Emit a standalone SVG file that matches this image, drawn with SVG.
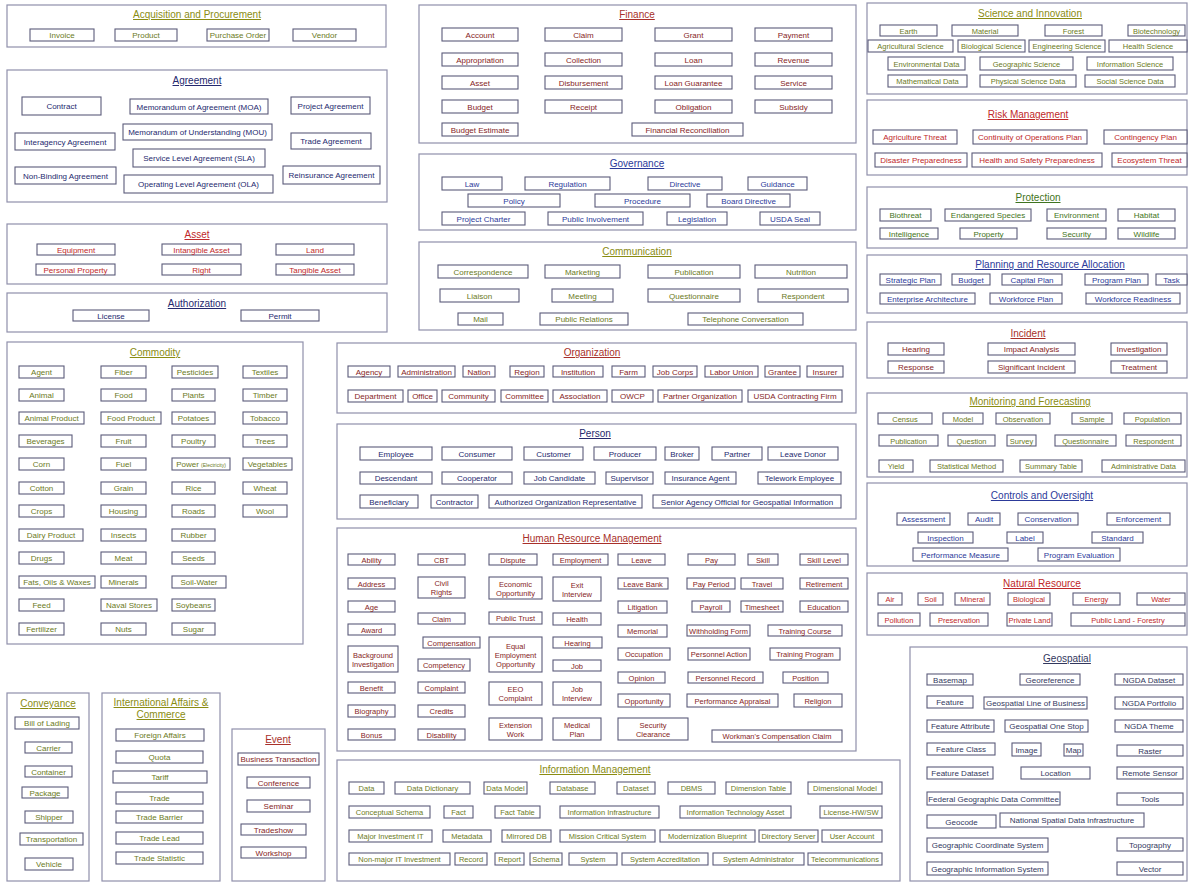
<svg xmlns="http://www.w3.org/2000/svg" width="1188" height="883" viewBox="0 0 1188 883">
<style>
  rect.panel{fill:#fff;stroke:#8f8fab;stroke-width:1.2}
  rect.box{fill:#fff;stroke:#5b5b7a;stroke-width:1.1}
  text{font-family:"Liberation Sans",Arial,Helvetica,sans-serif;font-size:8px;text-anchor:middle}
  .sm text{font-size:7.5px}
  text.title,.sm text.title{font-size:10px;text-decoration:underline}
  .olive text{fill:#6b7a1c}
  .olive text.title{fill:#8a8c12}
  .navy text{fill:#25296e}
  .red text{fill:#c0282a}
  .maroon text{fill:#861e1e}
  .maroon text.title{fill:#a8302a}
  .blue text{fill:#2c3a9a}
  .green text{fill:#3f7420}
  .slate text{fill:#33385e}
</style>
<rect width="1188" height="883" fill="#fff"/>

<!-- Acquisition and Procurement -->
<g id="acquisition-and-procurement" class="olive">
  <rect class="panel" x="7" y="5" width="379" height="42"/>
  <text class="title" x="197" y="18">Acquisition and Procurement</text>
  <g id="acq-invoice"><rect class="box" x="30" y="29" width="64" height="12"/><text x="62" y="38">Invoice</text></g>
  <g id="acq-product"><rect class="box" x="115" y="29" width="62" height="12"/><text x="146" y="38">Product</text></g>
  <g id="acq-purchase-order"><rect class="box" x="207" y="29" width="62" height="12"/><text x="238" y="38">Purchase Order</text></g>
  <g id="acq-vendor"><rect class="box" x="293" y="29" width="63" height="12"/><text x="324.5" y="38">Vendor</text></g>
</g>

<!-- Agreement -->
<g id="agreement" class="navy">
  <rect class="panel" x="7" y="70" width="380" height="132"/>
  <text class="title" x="197" y="84">Agreement</text>
  <g id="agr-contract"><rect class="box" x="22" y="97" width="79" height="18"/><text x="61.5" y="109">Contract</text></g>
  <g id="agr-moa"><rect class="box" x="130" y="99" width="138" height="15"/><text x="199" y="109.5">Memorandum of Agreement (MOA)</text></g>
  <g id="agr-project"><rect class="box" x="291" y="97" width="79" height="17"/><text x="330.5" y="108.5">Project Agreement</text></g>
  <g id="agr-mou"><rect class="box" x="123" y="124" width="149" height="16"/><text x="197.5" y="135">Memorandum of Understanding (MOU)</text></g>
  <g id="agr-interagency"><rect class="box" x="15" y="133" width="100" height="17"/><text x="65" y="144.5">Interagency Agreement</text></g>
  <g id="agr-trade"><rect class="box" x="291" y="133" width="80" height="16"/><text x="331" y="144">Trade Agreement</text></g>
  <g id="agr-sla"><rect class="box" x="133" y="149" width="132" height="18"/><text x="199" y="161">Service Level Agreement (SLA)</text></g>
  <g id="agr-non-binding"><rect class="box" x="15" y="167" width="101" height="17"/><text x="65.5" y="178.5">Non-Binding Agreement</text></g>
  <g id="agr-ola"><rect class="box" x="124" y="175" width="149" height="18"/><text x="198.5" y="187">Operating Level Agreement (OLA)</text></g>
  <g id="agr-reinsurance"><rect class="box" x="283" y="166" width="97" height="18"/><text x="331.5" y="178">Reinsurance Agreement</text></g>
</g>

<!-- Asset -->
<g id="asset" class="red">
  <rect class="panel" x="7" y="224" width="380" height="60"/>
  <text class="title" x="197" y="238">Asset</text>
  <g id="ast-equipment"><rect class="box" x="37" y="244" width="78" height="11"/><text x="76" y="252.5">Equipment</text></g>
  <g id="ast-intangible"><rect class="box" x="162" y="244" width="79" height="11"/><text x="201.5" y="252.5">Intangible Asset</text></g>
  <g id="ast-land"><rect class="box" x="276" y="244" width="78" height="11"/><text x="315" y="252.5">Land</text></g>
  <g id="ast-personal-property"><rect class="box" x="36" y="264" width="79" height="11"/><text x="75.5" y="272.5">Personal Property</text></g>
  <g id="ast-right"><rect class="box" x="162" y="264" width="79" height="11"/><text x="201.5" y="272.5">Right</text></g>
  <g id="ast-tangible"><rect class="box" x="276" y="264" width="78" height="11"/><text x="315" y="272.5">Tangible Asset</text></g>
</g>

<!-- Authorization -->
<g id="authorization" class="navy">
  <rect class="panel" x="7" y="293" width="380" height="39"/>
  <text class="title" x="197" y="307">Authorization</text>
  <g id="auth-license"><rect class="box" x="73" y="310" width="76" height="11"/><text x="111" y="318.5">License</text></g>
  <g id="auth-permit"><rect class="box" x="241" y="310" width="78" height="11"/><text x="280" y="318.5">Permit</text></g>
</g>

<!-- Commodity -->
<g id="commodity" class="olive">
  <rect class="panel" x="7" y="342" width="296" height="302"/>
  <text class="title" x="155" y="356">Commodity</text>
  <g id="cmd-agent"><rect class="box" x="19" y="366" width="45" height="12"/><text x="41.5" y="375">Agent</text></g>
  <g id="cmd-fiber"><rect class="box" x="101" y="366" width="45" height="12"/><text x="123.5" y="375">Fiber</text></g>
  <g id="cmd-pesticides"><rect class="box" x="172" y="366" width="46" height="12"/><text x="195" y="375">Pesticides</text></g>
  <g id="cmd-textiles"><rect class="box" x="243" y="366" width="44" height="12"/><text x="265" y="375">Textiles</text></g>
  <g id="cmd-animal"><rect class="box" x="19" y="389" width="45" height="12"/><text x="41.5" y="398">Animal</text></g>
  <g id="cmd-food"><rect class="box" x="101" y="389" width="45" height="12"/><text x="123.5" y="398">Food</text></g>
  <g id="cmd-plants"><rect class="box" x="172" y="389" width="43" height="12"/><text x="193.5" y="398">Plants</text></g>
  <g id="cmd-timber"><rect class="box" x="243" y="389" width="44" height="12"/><text x="265" y="398">Timber</text></g>
  <g id="cmd-animal-product"><rect class="box" x="19" y="412" width="65" height="12"/><text x="51.5" y="421">Animal Product</text></g>
  <g id="cmd-food-product"><rect class="box" x="101" y="412" width="60" height="12"/><text x="131" y="421">Food Product</text></g>
  <g id="cmd-potatoes"><rect class="box" x="172" y="412" width="43" height="12"/><text x="193.5" y="421">Potatoes</text></g>
  <g id="cmd-tobacco"><rect class="box" x="243" y="412" width="44" height="12"/><text x="265" y="421">Tobacco</text></g>
  <g id="cmd-beverages"><rect class="box" x="19" y="435" width="53" height="12"/><text x="45.5" y="444">Beverages</text></g>
  <g id="cmd-fruit"><rect class="box" x="101" y="435" width="45" height="12"/><text x="123.5" y="444">Fruit</text></g>
  <g id="cmd-poultry"><rect class="box" x="172" y="435" width="43" height="12"/><text x="193.5" y="444">Poultry</text></g>
  <g id="cmd-trees"><rect class="box" x="243" y="435" width="44" height="12"/><text x="265" y="444">Trees</text></g>
  <g id="cmd-corn"><rect class="box" x="19" y="458" width="45" height="12"/><text x="41.5" y="467">Corn</text></g>
  <g id="cmd-fuel"><rect class="box" x="101" y="458" width="45" height="12"/><text x="123.5" y="467">Fuel</text></g>
  <g id="cmd-power"><rect class="box" x="172" y="458" width="58" height="12"/><text x="201" y="467">Power <tspan font-size="5">(Electricity)</tspan></text></g>
  <g id="cmd-vegetables"><rect class="box" x="243" y="458" width="49" height="12"/><text x="267.5" y="467">Vegetables</text></g>
  <g id="cmd-cotton"><rect class="box" x="19" y="482" width="45" height="12"/><text x="41.5" y="491">Cotton</text></g>
  <g id="cmd-grain"><rect class="box" x="101" y="482" width="45" height="12"/><text x="123.5" y="491">Grain</text></g>
  <g id="cmd-rice"><rect class="box" x="172" y="482" width="43" height="12"/><text x="193.5" y="491">Rice</text></g>
  <g id="cmd-wheat"><rect class="box" x="243" y="482" width="44" height="12"/><text x="265" y="491">Wheat</text></g>
  <g id="cmd-crops"><rect class="box" x="19" y="505" width="45" height="12"/><text x="41.5" y="514">Crops</text></g>
  <g id="cmd-housing"><rect class="box" x="101" y="505" width="45" height="12"/><text x="123.5" y="514">Housing</text></g>
  <g id="cmd-roads"><rect class="box" x="172" y="505" width="43" height="12"/><text x="193.5" y="514">Roads</text></g>
  <g id="cmd-wool"><rect class="box" x="243" y="505" width="44" height="12"/><text x="265" y="514">Wool</text></g>
  <g id="cmd-dairy-product"><rect class="box" x="19" y="529" width="64" height="12"/><text x="51" y="538">Dairy Product</text></g>
  <g id="cmd-insects"><rect class="box" x="101" y="529" width="45" height="12"/><text x="123.5" y="538">Insects</text></g>
  <g id="cmd-rubber"><rect class="box" x="172" y="529" width="43" height="12"/><text x="193.5" y="538">Rubber</text></g>
  <g id="cmd-drugs"><rect class="box" x="19" y="552" width="45" height="12"/><text x="41.5" y="561">Drugs</text></g>
  <g id="cmd-meat"><rect class="box" x="101" y="552" width="45" height="12"/><text x="123.5" y="561">Meat</text></g>
  <g id="cmd-seeds"><rect class="box" x="172" y="552" width="43" height="12"/><text x="193.5" y="561">Seeds</text></g>
  <g id="cmd-fats-oils-waxes"><rect class="box" x="19" y="576" width="76" height="12"/><text x="57" y="585">Fats, Oils &amp; Waxes</text></g>
  <g id="cmd-minerals"><rect class="box" x="101" y="576" width="45" height="12"/><text x="123.5" y="585">Minerals</text></g>
  <g id="cmd-soil-water"><rect class="box" x="172" y="576" width="54" height="12"/><text x="199" y="585">Soil-Water</text></g>
  <g id="cmd-feed"><rect class="box" x="19" y="599" width="45" height="12"/><text x="41.5" y="608">Feed</text></g>
  <g id="cmd-naval-stores"><rect class="box" x="101" y="599" width="56" height="12"/><text x="129" y="608">Naval Stores</text></g>
  <g id="cmd-soybeans"><rect class="box" x="172" y="599" width="43" height="12"/><text x="193.5" y="608">Soybeans</text></g>
  <g id="cmd-fertilizer"><rect class="box" x="19" y="623" width="45" height="12"/><text x="41.5" y="632">Fertilizer</text></g>
  <g id="cmd-nuts"><rect class="box" x="101" y="623" width="45" height="12"/><text x="123.5" y="632">Nuts</text></g>
  <g id="cmd-sugar"><rect class="box" x="172" y="623" width="43" height="12"/><text x="193.5" y="632">Sugar</text></g>
</g>

<!-- Conveyance -->
<g id="conveyance" class="olive">
  <rect class="panel" x="7" y="693" width="82" height="188"/>
  <text class="title" x="48" y="707">Conveyance</text>
  <g id="cnv-bill-of-lading"><rect class="box" x="15" y="717" width="64" height="12"/><text x="47" y="726">Bill of Lading</text></g>
  <g id="cnv-carrier"><rect class="box" x="25" y="742" width="47" height="11"/><text x="48.5" y="750.5">Carrier</text></g>
  <g id="cnv-container"><rect class="box" x="25" y="766" width="47" height="11"/><text x="48.5" y="774.5">Container</text></g>
  <g id="cnv-package"><rect class="box" x="22" y="787" width="46" height="11"/><text x="45" y="795.5">Package</text></g>
  <g id="cnv-shipper"><rect class="box" x="25" y="811" width="48" height="12"/><text x="49" y="820">Shipper</text></g>
  <g id="cnv-transportation"><rect class="box" x="20" y="833" width="63" height="12"/><text x="51.5" y="842">Transportation</text></g>
  <g id="cnv-vehicle"><rect class="box" x="25" y="858" width="48" height="12"/><text x="49" y="867">Vehicle</text></g>
</g>

<!-- International Affairs & Commerce -->
<g id="international-affairs-and-commerce" class="olive">
  <rect class="panel" x="102" y="693" width="118" height="188"/>
  <text class="title" x="161" y="706">International Affairs &amp;</text>
  <text class="title" x="161" y="718">Commerce</text>
  <g id="int-foreign-affairs"><rect class="box" x="116" y="729" width="88" height="12"/><text x="160" y="738">Foreign Affairs</text></g>
  <g id="int-quota"><rect class="box" x="116" y="751" width="87" height="12"/><text x="159.5" y="760">Quota</text></g>
  <g id="int-tariff"><rect class="box" x="113" y="771" width="94" height="12"/><text x="160" y="780">Tariff</text></g>
  <g id="int-trade"><rect class="box" x="116" y="792" width="87" height="12"/><text x="159.5" y="801">Trade</text></g>
  <g id="int-trade-barrier"><rect class="box" x="116" y="811" width="87" height="12"/><text x="159.5" y="820">Trade Barrier</text></g>
  <g id="int-trade-lead"><rect class="box" x="116" y="832" width="87" height="12"/><text x="159.5" y="841">Trade Lead</text></g>
  <g id="int-trade-statistic"><rect class="box" x="116" y="852" width="87" height="12"/><text x="159.5" y="861">Trade Statistic</text></g>
</g>

<!-- Event -->
<g id="event" class="maroon">
  <rect class="panel" x="232" y="729" width="93" height="152"/>
  <text class="title" x="278" y="743">Event</text>
  <g id="evt-business-transaction"><rect class="box" x="238" y="753" width="81" height="12"/><text x="278.5" y="762" font-size="7">Business Transaction</text></g>
  <g id="evt-conference"><rect class="box" x="247" y="777" width="63" height="11"/><text x="278.5" y="785.5">Conference</text></g>
  <g id="evt-seminar"><rect class="box" x="247" y="800" width="63" height="12"/><text x="278.5" y="809">Seminar</text></g>
  <g id="evt-tradeshow"><rect class="box" x="241" y="824" width="65" height="11"/><text x="273.5" y="832.5">Tradeshow</text></g>
  <g id="evt-workshop"><rect class="box" x="241" y="847" width="65" height="11"/><text x="273.5" y="855.5">Workshop</text></g>
</g>

<!-- Finance -->
<g id="finance" class="maroon">
  <rect class="panel" x="419" y="5" width="437" height="138"/>
  <text class="title" x="637" y="18">Finance</text>
  <g id="fin-account"><rect class="box" x="442" y="28" width="76" height="13"/><text x="480" y="37.5">Account</text></g>
  <g id="fin-claim"><rect class="box" x="545" y="28" width="77" height="13"/><text x="583.5" y="37.5">Claim</text></g>
  <g id="fin-grant"><rect class="box" x="655" y="28" width="77" height="13"/><text x="693.5" y="37.5">Grant</text></g>
  <g id="fin-payment"><rect class="box" x="755" y="28" width="77" height="13"/><text x="793.5" y="37.5">Payment</text></g>
  <g id="fin-appropriation"><rect class="box" x="442" y="53" width="76" height="13"/><text x="480" y="62.5">Appropriation</text></g>
  <g id="fin-collection"><rect class="box" x="545" y="53" width="77" height="13"/><text x="583.5" y="62.5">Collection</text></g>
  <g id="fin-loan"><rect class="box" x="655" y="53" width="77" height="13"/><text x="693.5" y="62.5">Loan</text></g>
  <g id="fin-revenue"><rect class="box" x="755" y="53" width="77" height="13"/><text x="793.5" y="62.5">Revenue</text></g>
  <g id="fin-asset"><rect class="box" x="442" y="76" width="76" height="13"/><text x="480" y="85.5">Asset</text></g>
  <g id="fin-disbursement"><rect class="box" x="545" y="76" width="77" height="13"/><text x="583.5" y="85.5">Disbursement</text></g>
  <g id="fin-loan-guarantee"><rect class="box" x="655" y="76" width="77" height="13"/><text x="693.5" y="85.5">Loan Guarantee</text></g>
  <g id="fin-service"><rect class="box" x="755" y="76" width="77" height="13"/><text x="793.5" y="85.5">Service</text></g>
  <g id="fin-budget"><rect class="box" x="442" y="100" width="76" height="13"/><text x="480" y="109.5">Budget</text></g>
  <g id="fin-receipt"><rect class="box" x="545" y="100" width="77" height="13"/><text x="583.5" y="109.5">Receipt</text></g>
  <g id="fin-obligation"><rect class="box" x="655" y="100" width="77" height="13"/><text x="693.5" y="109.5">Obligation</text></g>
  <g id="fin-subsidy"><rect class="box" x="755" y="100" width="77" height="13"/><text x="793.5" y="109.5">Subsidy</text></g>
  <g id="fin-budget-estimate"><rect class="box" x="442" y="123" width="76" height="13"/><text x="480" y="132.5">Budget Estimate</text></g>
  <g id="fin-financial-reconciliation"><rect class="box" x="632" y="123" width="111" height="13"/><text x="687.5" y="132.5">Financial Reconciliation</text></g>
</g>

<!-- Governance -->
<g id="governance" class="blue">
  <rect class="panel" x="419" y="154" width="437" height="76"/>
  <text class="title" x="637" y="167">Governance</text>
  <g id="gov-law"><rect class="box" x="442" y="177" width="60" height="13"/><text x="472" y="186.5">Law</text></g>
  <g id="gov-regulation"><rect class="box" x="525" y="177" width="85" height="13"/><text x="567.5" y="186.5">Regulation</text></g>
  <g id="gov-directive"><rect class="box" x="648" y="177" width="74" height="13"/><text x="685" y="186.5">Directive</text></g>
  <g id="gov-guidance"><rect class="box" x="748" y="177" width="59" height="13"/><text x="777.5" y="186.5">Guidance</text></g>
  <g id="gov-policy"><rect class="box" x="468" y="194" width="92" height="13"/><text x="514" y="203.5">Policy</text></g>
  <g id="gov-procedure"><rect class="box" x="595" y="194" width="95" height="13"/><text x="642.5" y="203.5">Procedure</text></g>
  <g id="gov-board-directive"><rect class="box" x="707" y="194" width="83" height="13"/><text x="748.5" y="203.5">Board Directive</text></g>
  <g id="gov-project-charter"><rect class="box" x="442" y="212" width="83" height="13"/><text x="483.5" y="221.5">Project Charter</text></g>
  <g id="gov-public-involvement"><rect class="box" x="548" y="212" width="95" height="13"/><text x="595.5" y="221.5">Public Involvement</text></g>
  <g id="gov-legislation"><rect class="box" x="667" y="212" width="60" height="13"/><text x="697" y="221.5">Legislation</text></g>
  <g id="gov-usda-seal"><rect class="box" x="760" y="212" width="60" height="13"/><text x="790" y="221.5">USDA Seal</text></g>
</g>

<!-- Communication -->
<g id="communication" class="olive">
  <rect class="panel" x="419" y="242" width="437" height="88"/>
  <text class="title" x="637" y="255">Communication</text>
  <g id="com-correspondence"><rect class="box" x="438" y="265" width="90" height="13"/><text x="483" y="274.5">Correspondence</text></g>
  <g id="com-marketing"><rect class="box" x="545" y="265" width="75" height="13"/><text x="582.5" y="274.5">Marketing</text></g>
  <g id="com-publication"><rect class="box" x="648" y="265" width="92" height="13"/><text x="694" y="274.5">Publication</text></g>
  <g id="com-nutrition"><rect class="box" x="755" y="265" width="92" height="13"/><text x="801" y="274.5">Nutrition</text></g>
  <g id="com-liaison"><rect class="box" x="440" y="289" width="79" height="13"/><text x="479.5" y="298.5">Liaison</text></g>
  <g id="com-meeting"><rect class="box" x="552" y="289" width="61" height="13"/><text x="582.5" y="298.5">Meeting</text></g>
  <g id="com-questionnaire"><rect class="box" x="648" y="289" width="92" height="13"/><text x="694" y="298.5">Questionnaire</text></g>
  <g id="com-respondent"><rect class="box" x="758" y="289" width="90" height="13"/><text x="803" y="298.5">Respondent</text></g>
  <g id="com-mail"><rect class="box" x="458" y="313" width="45" height="12"/><text x="480.5" y="322">Mail</text></g>
  <g id="com-public-relations"><rect class="box" x="540" y="313" width="88" height="12"/><text x="584" y="322">Public Relations</text></g>
  <g id="com-telephone-conversation"><rect class="box" x="688" y="313" width="115" height="12"/><text x="745.5" y="322">Telephone Conversation</text></g>
</g>

<!-- Organization -->
<g id="organization" class="maroon">
  <rect class="panel" x="337" y="343" width="519" height="70"/>
  <text class="title" x="592" y="356">Organization</text>
  <g id="org-agency"><rect class="box" x="348" y="366" width="42" height="11"/><text x="369" y="374.5">Agency</text></g>
  <g id="org-administration"><rect class="box" x="398" y="366" width="57" height="11"/><text x="426.5" y="374.5">Administration</text></g>
  <g id="org-nation"><rect class="box" x="463" y="366" width="32" height="11"/><text x="479" y="374.5">Nation</text></g>
  <g id="org-region"><rect class="box" x="510" y="366" width="34" height="11"/><text x="527" y="374.5">Region</text></g>
  <g id="org-institution"><rect class="box" x="553" y="366" width="50" height="11"/><text x="578" y="374.5">Institution</text></g>
  <g id="org-farm"><rect class="box" x="612" y="366" width="33" height="11"/><text x="628.5" y="374.5">Farm</text></g>
  <g id="org-job-corps"><rect class="box" x="653" y="366" width="44" height="11"/><text x="675" y="374.5">Job Corps</text></g>
  <g id="org-labor-union"><rect class="box" x="705" y="366" width="53" height="11"/><text x="731.5" y="374.5">Labor Union</text></g>
  <g id="org-grantee"><rect class="box" x="765" y="366" width="35" height="11"/><text x="782.5" y="374.5">Grantee</text></g>
  <g id="org-insurer"><rect class="box" x="807" y="366" width="36" height="11"/><text x="825" y="374.5">Insurer</text></g>
  <g id="org-department"><rect class="box" x="348" y="390" width="55" height="12"/><text x="375.5" y="399">Department</text></g>
  <g id="org-office"><rect class="box" x="408" y="390" width="29" height="12"/><text x="422.5" y="399">Office</text></g>
  <g id="org-community"><rect class="box" x="442" y="390" width="53" height="12"/><text x="468.5" y="399">Community</text></g>
  <g id="org-committee"><rect class="box" x="501" y="390" width="47" height="12"/><text x="524.5" y="399">Committee</text></g>
  <g id="org-association"><rect class="box" x="553" y="390" width="54" height="12"/><text x="580" y="399">Association</text></g>
  <g id="org-owcp"><rect class="box" x="612" y="390" width="41" height="12"/><text x="632.5" y="399">OWCP</text></g>
  <g id="org-partner-organization"><rect class="box" x="658" y="390" width="84" height="12"/><text x="700" y="399">Partner Organization</text></g>
  <g id="org-usda-contracting-firm"><rect class="box" x="748" y="390" width="94" height="12"/><text x="795" y="399">USDA Contracting Firm</text></g>
</g>

<!-- Person -->
<g id="person" class="navy">
  <rect class="panel" x="337" y="424" width="519" height="95"/>
  <text class="title" x="595" y="437">Person</text>
  <g id="per-employee"><rect class="box" x="360" y="447" width="72" height="13"/><text x="396" y="456.5">Employee</text></g>
  <g id="per-consumer"><rect class="box" x="442" y="447" width="70" height="13"/><text x="477" y="456.5">Consumer</text></g>
  <g id="per-customer"><rect class="box" x="524" y="447" width="59" height="13"/><text x="553.5" y="456.5">Customer</text></g>
  <g id="per-producer"><rect class="box" x="594" y="447" width="62" height="13"/><text x="625" y="456.5">Producer</text></g>
  <g id="per-broker"><rect class="box" x="665" y="447" width="34" height="13"/><text x="682" y="456.5">Broker</text></g>
  <g id="per-partner"><rect class="box" x="712" y="447" width="50" height="13"/><text x="737" y="456.5">Partner</text></g>
  <g id="per-leave-donor"><rect class="box" x="768" y="447" width="70" height="13"/><text x="803" y="456.5">Leave Donor</text></g>
  <g id="per-descendant"><rect class="box" x="360" y="472" width="72" height="12"/><text x="396" y="481">Descendant</text></g>
  <g id="per-cooperator"><rect class="box" x="442" y="472" width="70" height="12"/><text x="477" y="481">Cooperator</text></g>
  <g id="per-job-candidate"><rect class="box" x="524" y="472" width="71" height="12"/><text x="559.5" y="481">Job Candidate</text></g>
  <g id="per-supervisor"><rect class="box" x="606" y="472" width="47" height="12"/><text x="629.5" y="481">Supervisor</text></g>
  <g id="per-insurance-agent"><rect class="box" x="665" y="472" width="71" height="12"/><text x="700.5" y="481">Insurance Agent</text></g>
  <g id="per-telework-employee"><rect class="box" x="758" y="472" width="83" height="12"/><text x="799.5" y="481">Telework Employee</text></g>
  <g id="per-beneficiary"><rect class="box" x="360" y="495" width="58" height="13"/><text x="389" y="504.5">Beneficiary</text></g>
  <g id="per-contractor"><rect class="box" x="431" y="495" width="47" height="13"/><text x="454.5" y="504.5">Contractor</text></g>
  <g id="per-aor"><rect class="box" x="489" y="495" width="153" height="13"/><text x="565.5" y="504.5">Authorized Organization Representative</text></g>
  <g id="per-saogi"><rect class="box" x="653" y="495" width="188" height="13"/><text x="747" y="504.5">Senior Agency Official for Geospatial Information</text></g>
</g>

<!-- Human Resource Management -->
<g id="human-resource-management" class="maroon sm">
  <rect class="panel" x="337" y="528" width="519" height="223"/>
  <text class="title" x="592" y="542">Human Resource Management</text>
  <g id="hr-ability"><rect class="box" x="348" y="554" width="47" height="11"/><text x="371.5" y="562.5">Ability</text></g>
  <g id="hr-cbt"><rect class="box" x="418" y="554" width="47" height="11"/><text x="441.5" y="562.5">CBT</text></g>
  <g id="hr-dispute"><rect class="box" x="489" y="554" width="48" height="11"/><text x="513" y="562.5">Dispute</text></g>
  <g id="hr-employment"><rect class="box" x="553" y="554" width="55" height="11"/><text x="580.5" y="562.5">Employment</text></g>
  <g id="hr-leave"><rect class="box" x="618" y="554" width="47" height="11"/><text x="641.5" y="562.5">Leave</text></g>
  <g id="hr-pay"><rect class="box" x="688" y="554" width="47" height="11"/><text x="711.5" y="562.5">Pay</text></g>
  <g id="hr-skill"><rect class="box" x="748" y="554" width="30" height="11"/><text x="763" y="562.5">Skill</text></g>
  <g id="hr-skill-level"><rect class="box" x="800" y="554" width="48" height="11"/><text x="824" y="562.5">Skill Level</text></g>
  <g id="hr-address"><rect class="box" x="348" y="578" width="47" height="11"/><text x="371.5" y="586.5">Address</text></g>
  <g id="hr-civil-rights"><rect class="box" x="418" y="577" width="47" height="21"/><text x="441.5" y="586">Civil</text><text x="441.5" y="595">Rights</text></g>
  <g id="hr-economic-opportunity"><rect class="box" x="489" y="577" width="53" height="22"/><text x="515.5" y="586.5">Economic</text><text x="515.5" y="595.5">Opportunity</text></g>
  <g id="hr-exit-interview"><rect class="box" x="553" y="577" width="48" height="24"/><text x="577" y="587.5">Exit</text><text x="577" y="596.5">Interview</text></g>
  <g id="hr-leave-bank"><rect class="box" x="618" y="578" width="50" height="11"/><text x="643" y="586.5">Leave Bank</text></g>
  <g id="hr-pay-period"><rect class="box" x="687" y="578" width="48" height="11"/><text x="711" y="586.5">Pay Period</text></g>
  <g id="hr-travel"><rect class="box" x="741" y="578" width="42" height="11"/><text x="762" y="586.5">Travel</text></g>
  <g id="hr-retirement"><rect class="box" x="800" y="578" width="48" height="11"/><text x="824" y="586.5">Retirement</text></g>
  <g id="hr-age"><rect class="box" x="348" y="601" width="47" height="11"/><text x="371.5" y="609.5">Age</text></g>
  <g id="hr-litigation"><rect class="box" x="618" y="601" width="49" height="12"/><text x="642.5" y="610">Litigation</text></g>
  <g id="hr-payroll"><rect class="box" x="692" y="601" width="38" height="11"/><text x="711" y="609.5">Payroll</text></g>
  <g id="hr-timesheet"><rect class="box" x="741" y="601" width="42" height="11"/><text x="762" y="609.5">Timesheet</text></g>
  <g id="hr-education"><rect class="box" x="800" y="601" width="48" height="11"/><text x="824" y="609.5">Education</text></g>
  <g id="hr-claim"><rect class="box" x="418" y="613" width="47" height="11"/><text x="441.5" y="621.5">Claim</text></g>
  <g id="hr-public-trust"><rect class="box" x="489" y="612" width="53" height="12"/><text x="515.5" y="621">Public Trust</text></g>
  <g id="hr-health"><rect class="box" x="553" y="613" width="48" height="12"/><text x="577" y="622">Health</text></g>
  <g id="hr-award"><rect class="box" x="348" y="624" width="47" height="11"/><text x="371.5" y="632.5">Award</text></g>
  <g id="hr-memorial"><rect class="box" x="618" y="625" width="49" height="12"/><text x="642.5" y="634">Memorial</text></g>
  <g id="hr-withholding-form"><rect class="box" x="687" y="625" width="63" height="11"/><text x="718.5" y="633.5">Withholding Form</text></g>
  <g id="hr-training-course"><rect class="box" x="768" y="625" width="74" height="11"/><text x="805" y="633.5">Training Course</text></g>
  <g id="hr-compensation"><rect class="box" x="423" y="637" width="57" height="11"/><text x="451.5" y="645.5">Compensation</text></g>
  <g id="hr-equal-employment-opportunity"><rect class="box" x="489" y="637" width="53" height="35"/><text x="515.5" y="648.5">Equal</text><text x="515.5" y="657.5">Employment</text><text x="515.5" y="666.5">Opportunity</text></g>
  <g id="hr-hearing"><rect class="box" x="553" y="637" width="49" height="11"/><text x="577.5" y="645.5">Hearing</text></g>
  <g id="hr-background-investigation"><rect class="box" x="348" y="646" width="50" height="26"/><text x="373" y="657.5">Background</text><text x="373" y="666.5">Investigation</text></g>
  <g id="hr-occupation"><rect class="box" x="618" y="648" width="52" height="12"/><text x="644" y="657">Occupation</text></g>
  <g id="hr-personnel-action"><rect class="box" x="688" y="648" width="62" height="12"/><text x="719" y="657">Personnel Action</text></g>
  <g id="hr-training-program"><rect class="box" x="770" y="648" width="70" height="12"/><text x="805" y="657">Training Program</text></g>
  <g id="hr-competency"><rect class="box" x="418" y="659" width="52" height="12"/><text x="444" y="668">Competency</text></g>
  <g id="hr-job"><rect class="box" x="553" y="660" width="48" height="11"/><text x="577" y="668.5">Job</text></g>
  <g id="hr-opinion"><rect class="box" x="618" y="672" width="47" height="11"/><text x="641.5" y="680.5">Opinion</text></g>
  <g id="hr-personnel-record"><rect class="box" x="688" y="672" width="75" height="11"/><text x="725.5" y="680.5">Personnel Record</text></g>
  <g id="hr-position"><rect class="box" x="783" y="672" width="45" height="11"/><text x="805.5" y="680.5">Position</text></g>
  <g id="hr-benefit"><rect class="box" x="348" y="682" width="47" height="11"/><text x="371.5" y="690.5">Benefit</text></g>
  <g id="hr-complaint"><rect class="box" x="418" y="682" width="47" height="11"/><text x="441.5" y="690.5">Complaint</text></g>
  <g id="hr-eeo-complaint"><rect class="box" x="489" y="682" width="53" height="23"/><text x="515.5" y="692">EEO</text><text x="515.5" y="701">Complaint</text></g>
  <g id="hr-job-interview"><rect class="box" x="553" y="682" width="48" height="23"/><text x="577" y="692">Job</text><text x="577" y="701">Interview</text></g>
  <g id="hr-opportunity"><rect class="box" x="618" y="694" width="52" height="13"/><text x="644" y="703.5">Opportunity</text></g>
  <g id="hr-performance-appraisal"><rect class="box" x="687" y="694" width="91" height="13"/><text x="732.5" y="703.5">Performance Appraisal</text></g>
  <g id="hr-religion"><rect class="box" x="794" y="694" width="48" height="13"/><text x="818" y="703.5">Religion</text></g>
  <g id="hr-biography"><rect class="box" x="348" y="705" width="47" height="12"/><text x="371.5" y="714">Biography</text></g>
  <g id="hr-credits"><rect class="box" x="418" y="705" width="47" height="12"/><text x="441.5" y="714">Credits</text></g>
  <g id="hr-extension-work"><rect class="box" x="489" y="718" width="53" height="22"/><text x="515.5" y="727.5">Extension</text><text x="515.5" y="736.5">Work</text></g>
  <g id="hr-medical-plan"><rect class="box" x="553" y="718" width="48" height="22"/><text x="577" y="727.5">Medical</text><text x="577" y="736.5">Plan</text></g>
  <g id="hr-security-clearance"><rect class="box" x="618" y="718" width="70" height="22"/><text x="653" y="727.5">Security</text><text x="653" y="736.5">Clearance</text></g>
  <g id="hr-bonus"><rect class="box" x="348" y="729" width="47" height="11"/><text x="371.5" y="737.5">Bonus</text></g>
  <g id="hr-disability"><rect class="box" x="418" y="729" width="47" height="11"/><text x="441.5" y="737.5">Disability</text></g>
  <g id="hr-workmans-compensation-claim"><rect class="box" x="712" y="730" width="130" height="12"/><text x="777" y="739">Workman's Compensation Claim</text></g>
</g>

<!-- Information Management -->
<g id="information-management" class="olive sm">
  <rect class="panel" x="337" y="760" width="563" height="121"/>
  <text class="title" x="595" y="773">Information Management</text>
  <g id="im-data"><rect class="box" x="349" y="782" width="35" height="12"/><text x="366.5" y="791">Data</text></g>
  <g id="im-data-dictionary"><rect class="box" x="395" y="782" width="75" height="12"/><text x="432.5" y="791">Data Dictionary</text></g>
  <g id="im-data-model"><rect class="box" x="484" y="782" width="43" height="12"/><text x="505.5" y="791">Data Model</text></g>
  <g id="im-database"><rect class="box" x="550" y="782" width="45" height="12"/><text x="572.5" y="791">Database</text></g>
  <g id="im-dataset"><rect class="box" x="617" y="782" width="38" height="12"/><text x="636" y="791">Dataset</text></g>
  <g id="im-dbms"><rect class="box" x="668" y="782" width="47" height="12"/><text x="691.5" y="791">DBMS</text></g>
  <g id="im-dimension-table"><rect class="box" x="726" y="782" width="65" height="12"/><text x="758.5" y="791">Dimension Table</text></g>
  <g id="im-dimensional-model"><rect class="box" x="808" y="782" width="74" height="12"/><text x="845" y="791">Dimensional Model</text></g>
  <g id="im-conceptual-schema"><rect class="box" x="349" y="806" width="81" height="12"/><text x="389.5" y="815">Conceptual Schema</text></g>
  <g id="im-fact"><rect class="box" x="444" y="806" width="29" height="12"/><text x="458.5" y="815">Fact</text></g>
  <g id="im-fact-table"><rect class="box" x="495" y="806" width="45" height="12"/><text x="517.5" y="815">Fact Table</text></g>
  <g id="im-information-infrastructure"><rect class="box" x="560" y="806" width="99" height="12"/><text x="609.5" y="815">Information Infrastructure</text></g>
  <g id="im-information-technology-asset"><rect class="box" x="680" y="806" width="111" height="12"/><text x="735.5" y="815">Information Technology Asset</text></g>
  <g id="im-license-hw-sw"><rect class="box" x="820" y="806" width="62" height="12"/><text x="851" y="815">License-HW/SW</text></g>
  <g id="im-major-investment-it"><rect class="box" x="349" y="830" width="83" height="12"/><text x="390.5" y="839">Major Investment IT</text></g>
  <g id="im-metadata"><rect class="box" x="443" y="830" width="48" height="12"/><text x="467" y="839">Metadata</text></g>
  <g id="im-mirrored-db"><rect class="box" x="502" y="830" width="49" height="12"/><text x="526.5" y="839">Mirrored DB</text></g>
  <g id="im-mission-critical-system"><rect class="box" x="560" y="830" width="95" height="12"/><text x="607.5" y="839">Mission Critical System</text></g>
  <g id="im-modernization-blueprint"><rect class="box" x="660" y="830" width="95" height="12"/><text x="707.5" y="839">Modernization Blueprint</text></g>
  <g id="im-directory-server"><rect class="box" x="759" y="830" width="59" height="12"/><text x="788.5" y="839">Directory Server</text></g>
  <g id="im-user-account"><rect class="box" x="822" y="830" width="60" height="12"/><text x="852" y="839">User Account</text></g>
  <g id="im-non-major-it-investment"><rect class="box" x="349" y="853" width="101" height="12"/><text x="399.5" y="862">Non-major IT Investment</text></g>
  <g id="im-record"><rect class="box" x="455" y="853" width="32" height="12"/><text x="471" y="862">Record</text></g>
  <g id="im-report"><rect class="box" x="495" y="853" width="29" height="12"/><text x="509.5" y="862">Report</text></g>
  <g id="im-schema"><rect class="box" x="530" y="853" width="32" height="12"/><text x="546" y="862">Schema</text></g>
  <g id="im-system"><rect class="box" x="569" y="853" width="48" height="12"/><text x="593" y="862">System</text></g>
  <g id="im-system-accreditation"><rect class="box" x="622" y="853" width="86" height="12"/><text x="665" y="862">System Accreditation</text></g>
  <g id="im-system-administrator"><rect class="box" x="713" y="853" width="91" height="12"/><text x="758.5" y="862">System Administrator</text></g>
  <g id="im-telecommunications"><rect class="box" x="808" y="853" width="74" height="12"/><text x="845" y="862">Telecommunications</text></g>
</g>

<!-- Science and Innovation -->
<g id="science-and-innovation" class="olive sm">
  <rect class="panel" x="867" y="3" width="320" height="91"/>
  <text class="title" x="1030" y="17">Science and Innovation</text>
  <g id="sci-earth"><rect class="box" x="880" y="25" width="57" height="11"/><text x="908.5" y="33.5">Earth</text></g>
  <g id="sci-material"><rect class="box" x="952" y="25" width="66" height="11"/><text x="985" y="33.5">Material</text></g>
  <g id="sci-forest"><rect class="box" x="1045" y="25" width="57" height="11"/><text x="1073.5" y="33.5">Forest</text></g>
  <g id="sci-biotechnology"><rect class="box" x="1128" y="25" width="57" height="11"/><text x="1156.5" y="33.5">Biotechnology</text></g>
  <g id="sci-agricultural-science"><rect class="box" x="868" y="40" width="85" height="12"/><text x="910.5" y="49">Agricultural Science</text></g>
  <g id="sci-biological-science"><rect class="box" x="958" y="40" width="67" height="12"/><text x="991.5" y="49">Biological Science</text></g>
  <g id="sci-engineering-science"><rect class="box" x="1029" y="40" width="76" height="12"/><text x="1067" y="49">Engineering Science</text></g>
  <g id="sci-health-science"><rect class="box" x="1109" y="40" width="78" height="12"/><text x="1148" y="49">Health Science</text></g>
  <g id="sci-environmental-data"><rect class="box" x="888" y="57" width="77" height="13"/><text x="926.5" y="66.5">Environmental Data</text></g>
  <g id="sci-geographic-science"><rect class="box" x="980" y="57" width="93" height="13"/><text x="1026.5" y="66.5">Geographic Science</text></g>
  <g id="sci-information-science"><rect class="box" x="1087" y="57" width="86" height="13"/><text x="1130" y="66.5">Information Science</text></g>
  <g id="sci-mathematical-data"><rect class="box" x="888" y="75" width="79" height="12"/><text x="927.5" y="84">Mathematical Data</text></g>
  <g id="sci-physical-science-data"><rect class="box" x="980" y="75" width="96" height="12"/><text x="1028" y="84">Physical Science Data</text></g>
  <g id="sci-social-science-data"><rect class="box" x="1085" y="75" width="90" height="12"/><text x="1130" y="84">Social Science Data</text></g>
</g>

<!-- Risk Management -->
<g id="risk-management" class="red">
  <rect class="panel" x="867" y="100" width="320" height="75"/>
  <text class="title" x="1028" y="118">Risk Management</text>
  <g id="risk-agriculture-threat"><rect class="box" x="873" y="130" width="84" height="14"/><text x="915" y="140">Agriculture Threat</text></g>
  <g id="risk-continuity-of-operations-plan"><rect class="box" x="973" y="130" width="114" height="14"/><text x="1030" y="140">Continuity of Operations Plan</text></g>
  <g id="risk-contingency-plan"><rect class="box" x="1104" y="130" width="83" height="14"/><text x="1145.5" y="140">Contingency Plan</text></g>
  <g id="risk-disaster-preparedness"><rect class="box" x="875" y="153" width="92" height="14"/><text x="921" y="163">Disaster Preparedness</text></g>
  <g id="risk-health-and-safety-preparedness"><rect class="box" x="972" y="153" width="130" height="14"/><text x="1037" y="163">Health and Safety Preparedness</text></g>
  <g id="risk-ecosystem-threat"><rect class="box" x="1112" y="153" width="75" height="14"/><text x="1149.5" y="163">Ecosystem Threat</text></g>
</g>

<!-- Protection -->
<g id="protection" class="green">
  <rect class="panel" x="867" y="187" width="320" height="61"/>
  <text class="title" x="1038" y="201">Protection</text>
  <g id="pro-biothreat"><rect class="box" x="880" y="209" width="51" height="12"/><text x="905.5" y="218">Biothreat</text></g>
  <g id="pro-endangered-species"><rect class="box" x="945" y="209" width="86" height="12"/><text x="988" y="218">Endangered Species</text></g>
  <g id="pro-environment"><rect class="box" x="1047" y="209" width="59" height="12"/><text x="1076.5" y="218">Environment</text></g>
  <g id="pro-habitat"><rect class="box" x="1118" y="209" width="57" height="12"/><text x="1146.5" y="218">Habitat</text></g>
  <g id="pro-intelligence"><rect class="box" x="880" y="228" width="58" height="11"/><text x="909" y="236.5">Intelligence</text></g>
  <g id="pro-property"><rect class="box" x="960" y="228" width="57" height="11"/><text x="988.5" y="236.5">Property</text></g>
  <g id="pro-security"><rect class="box" x="1047" y="228" width="59" height="11"/><text x="1076.5" y="236.5">Security</text></g>
  <g id="pro-wildlife"><rect class="box" x="1118" y="228" width="57" height="11"/><text x="1146.5" y="236.5">Wildlife</text></g>
</g>

<!-- Planning and Resource Allocation -->
<g id="planning-and-resource-allocation" class="blue">
  <rect class="panel" x="867" y="255" width="320" height="58"/>
  <text class="title" x="1050" y="268">Planning and Resource Allocation</text>
  <g id="pln-strategic-plan"><rect class="box" x="880" y="274" width="61" height="11"/><text x="910.5" y="282.5">Strategic Plan</text></g>
  <g id="pln-budget"><rect class="box" x="952" y="274" width="38" height="11"/><text x="971" y="282.5">Budget</text></g>
  <g id="pln-capital-plan"><rect class="box" x="1002" y="274" width="60" height="11"/><text x="1032" y="282.5">Capital Plan</text></g>
  <g id="pln-program-plan"><rect class="box" x="1085" y="274" width="63" height="11"/><text x="1116.5" y="282.5">Program Plan</text></g>
  <g id="pln-task"><rect class="box" x="1156" y="274" width="31" height="11"/><text x="1171.5" y="282.5">Task</text></g>
  <g id="pln-enterprise-architecture"><rect class="box" x="880" y="293" width="95" height="11"/><text x="927.5" y="301.5">Enterprise Architecture</text></g>
  <g id="pln-workforce-plan"><rect class="box" x="990" y="293" width="72" height="11"/><text x="1026" y="301.5">Workforce Plan</text></g>
  <g id="pln-workforce-readiness"><rect class="box" x="1086" y="293" width="94" height="11"/><text x="1133" y="301.5">Workforce Readiness</text></g>
</g>

<!-- Incident -->
<g id="incident" class="maroon">
  <rect class="panel" x="867" y="322" width="320" height="56"/>
  <text class="title" x="1028" y="337">Incident</text>
  <g id="inc-hearing"><rect class="box" x="888" y="343" width="56" height="12"/><text x="916" y="352">Hearing</text></g>
  <g id="inc-impact-analysis"><rect class="box" x="988" y="343" width="87" height="12"/><text x="1031.5" y="352">Impact Analysis</text></g>
  <g id="inc-investigation"><rect class="box" x="1111" y="343" width="56" height="12"/><text x="1139" y="352">Investigation</text></g>
  <g id="inc-response"><rect class="box" x="888" y="361" width="56" height="12"/><text x="916" y="370">Response</text></g>
  <g id="inc-significant-incident"><rect class="box" x="988" y="361" width="87" height="12"/><text x="1031.5" y="370">Significant Incident</text></g>
  <g id="inc-treatment"><rect class="box" x="1111" y="361" width="56" height="12"/><text x="1139" y="370">Treatment</text></g>
</g>

<!-- Monitoring and Forecasting -->
<g id="monitoring-and-forecasting" class="olive sm">
  <rect class="panel" x="867" y="393" width="320" height="84"/>
  <text class="title" x="1030" y="405">Monitoring and Forecasting</text>
  <g id="mon-census"><rect class="box" x="878" y="413" width="54" height="11"/><text x="905" y="421.5">Census</text></g>
  <g id="mon-model"><rect class="box" x="943" y="413" width="40" height="11"/><text x="963" y="421.5">Model</text></g>
  <g id="mon-observation"><rect class="box" x="996" y="413" width="54" height="11"/><text x="1023" y="421.5">Observation</text></g>
  <g id="mon-sample"><rect class="box" x="1072" y="413" width="40" height="11"/><text x="1092" y="421.5">Sample</text></g>
  <g id="mon-population"><rect class="box" x="1124" y="413" width="57" height="11"/><text x="1152.5" y="421.5">Population</text></g>
  <g id="mon-publication"><rect class="box" x="879" y="435" width="59" height="11"/><text x="908.5" y="443.5">Publication</text></g>
  <g id="mon-question"><rect class="box" x="948" y="435" width="47" height="11"/><text x="971.5" y="443.5">Question</text></g>
  <g id="mon-survey"><rect class="box" x="1007" y="435" width="29" height="11"/><text x="1021.5" y="443.5">Survey</text></g>
  <g id="mon-questionnaire"><rect class="box" x="1055" y="435" width="61" height="11"/><text x="1085.5" y="443.5">Questionnaire</text></g>
  <g id="mon-respondent"><rect class="box" x="1126" y="435" width="55" height="11"/><text x="1153.5" y="443.5">Respondent</text></g>
  <g id="mon-yield"><rect class="box" x="879" y="460" width="34" height="12"/><text x="896" y="469">Yield</text></g>
  <g id="mon-statistical-method"><rect class="box" x="930" y="460" width="73" height="12"/><text x="966.5" y="469">Statistical Method</text></g>
  <g id="mon-summary-table"><rect class="box" x="1020" y="460" width="62" height="12"/><text x="1051" y="469">Summary Table</text></g>
  <g id="mon-administrative-data"><rect class="box" x="1102" y="460" width="83" height="12"/><text x="1143.5" y="469">Administrative Data</text></g>
</g>

<!-- Controls and Oversight -->
<g id="controls-and-oversight" class="blue">
  <rect class="panel" x="867" y="483" width="320" height="83"/>
  <text class="title" x="1042" y="499">Controls and Oversight</text>
  <g id="ctl-assessment"><rect class="box" x="897" y="513" width="53" height="12"/><text x="923.5" y="522">Assessment</text></g>
  <g id="ctl-audit"><rect class="box" x="968" y="513" width="32" height="12"/><text x="984" y="522">Audit</text></g>
  <g id="ctl-conservation"><rect class="box" x="1018" y="513" width="60" height="12"/><text x="1048" y="522">Conservation</text></g>
  <g id="ctl-enforcement"><rect class="box" x="1107" y="513" width="63" height="12"/><text x="1138.5" y="522">Enforcement</text></g>
  <g id="ctl-inspection"><rect class="box" x="918" y="532" width="55" height="11"/><text x="945.5" y="540.5">Inspection</text></g>
  <g id="ctl-label"><rect class="box" x="1007" y="532" width="36" height="11"/><text x="1025" y="540.5">Label</text></g>
  <g id="ctl-standard"><rect class="box" x="1092" y="532" width="51" height="11"/><text x="1117.5" y="540.5">Standard</text></g>
  <g id="ctl-performance-measure"><rect class="box" x="913" y="548" width="95" height="13"/><text x="960.5" y="557.5">Performance Measure</text></g>
  <g id="ctl-program-evaluation"><rect class="box" x="1038" y="548" width="82" height="13"/><text x="1079" y="557.5">Program Evaluation</text></g>
</g>

<!-- Natural Resource -->
<g id="natural-resource" class="red sm">
  <rect class="panel" x="867" y="573" width="320" height="62"/>
  <text class="title" x="1042" y="587">Natural Resource</text>
  <g id="nat-air"><rect class="box" x="878" y="593" width="24" height="12"/><text x="890" y="602">Air</text></g>
  <g id="nat-soil"><rect class="box" x="918" y="593" width="25" height="12"/><text x="930.5" y="602">Soil</text></g>
  <g id="nat-mineral"><rect class="box" x="955" y="593" width="35" height="12"/><text x="972.5" y="602">Mineral</text></g>
  <g id="nat-biological"><rect class="box" x="1008" y="593" width="42" height="12"/><text x="1029" y="602">Biological</text></g>
  <g id="nat-energy"><rect class="box" x="1073" y="593" width="47" height="12"/><text x="1096.5" y="602">Energy</text></g>
  <g id="nat-water"><rect class="box" x="1137" y="593" width="48" height="12"/><text x="1161" y="602">Water</text></g>
  <g id="nat-pollution"><rect class="box" x="878" y="613" width="42" height="13"/><text x="899" y="622.5">Pollution</text></g>
  <g id="nat-preservation"><rect class="box" x="930" y="613" width="58" height="13"/><text x="959" y="622.5">Preservation</text></g>
  <g id="nat-private-land"><rect class="box" x="1007" y="613" width="45" height="13"/><text x="1029.5" y="622.5">Private Land</text></g>
  <g id="nat-public-land-forestry"><rect class="box" x="1071" y="613" width="114" height="13"/><text x="1128" y="622.5">Public Land - Forestry</text></g>
</g>

<!-- Geospatial -->
<g id="geospatial" class="slate">
  <rect class="panel" x="910" y="647" width="277" height="234"/>
  <text class="title" x="1067" y="662">Geospatial</text>
  <g id="geo-basemap"><rect class="box" x="927" y="674" width="46" height="11"/><text x="950" y="682.5">Basemap</text></g>
  <g id="geo-georeference"><rect class="box" x="1020" y="674" width="60" height="11"/><text x="1050" y="682.5">Georeference</text></g>
  <g id="geo-ngda-dataset"><rect class="box" x="1115" y="674" width="68" height="11"/><text x="1149" y="682.5">NGDA Dataset</text></g>
  <g id="geo-feature"><rect class="box" x="927" y="696" width="46" height="12"/><text x="950" y="705">Feature</text></g>
  <g id="geo-geospatial-line-of-business"><rect class="box" x="984" y="697" width="103" height="12"/><text x="1035.5" y="706">Geospatial Line of Business</text></g>
  <g id="geo-ngda-portfolio"><rect class="box" x="1115" y="697" width="68" height="12"/><text x="1149" y="706">NGDA Portfolio</text></g>
  <g id="geo-feature-attribute"><rect class="box" x="927" y="720" width="67" height="12"/><text x="960.5" y="729">Feature Attribute</text></g>
  <g id="geo-geospatial-one-stop"><rect class="box" x="1005" y="720" width="83" height="12"/><text x="1046.5" y="729">Geospatial One Stop</text></g>
  <g id="geo-ngda-theme"><rect class="box" x="1115" y="720" width="68" height="12"/><text x="1149" y="729">NGDA Theme</text></g>
  <g id="geo-feature-class"><rect class="box" x="927" y="743" width="68" height="12"/><text x="961" y="752">Feature Class</text></g>
  <g id="geo-image"><rect class="box" x="1012" y="743" width="29" height="13"/><text x="1026.5" y="752.5">Image</text></g>
  <g id="geo-map"><rect class="box" x="1064" y="744" width="19" height="12"/><text x="1073.5" y="753">Map</text></g>
  <g id="geo-raster"><rect class="box" x="1117" y="745" width="66" height="11"/><text x="1150" y="753.5">Raster</text></g>
  <g id="geo-feature-dataset"><rect class="box" x="927" y="767" width="66" height="12"/><text x="960" y="776">Feature Dataset</text></g>
  <g id="geo-location"><rect class="box" x="1021" y="767" width="69" height="12"/><text x="1055.5" y="776">Location</text></g>
  <g id="geo-remote-sensor"><rect class="box" x="1117" y="767" width="66" height="12"/><text x="1150" y="776">Remote Sensor</text></g>
  <g id="geo-fgdc"><rect class="box" x="927" y="792" width="133" height="13"/><text x="993.5" y="801.5">Federal Geographic Data Committee</text></g>
  <g id="geo-tools"><rect class="box" x="1117" y="793" width="66" height="12"/><text x="1150" y="802">Tools</text></g>
  <g id="geo-geocode"><rect class="box" x="927" y="815" width="69" height="13"/><text x="961.5" y="824.5">Geocode</text></g>
  <g id="geo-nsdi"><rect class="box" x="1000" y="813" width="144" height="14"/><text x="1072" y="823">National Spatial Data Infrastructure</text></g>
  <g id="geo-geographic-coordinate-system"><rect class="box" x="927" y="838" width="121" height="14"/><text x="987.5" y="848">Geographic Coordinate System</text></g>
  <g id="geo-topography"><rect class="box" x="1117" y="838" width="66" height="13"/><text x="1150" y="847.5">Topography</text></g>
  <g id="geo-geographic-information-system"><rect class="box" x="927" y="862" width="121" height="13"/><text x="987.5" y="871.5">Geographic Information System</text></g>
  <g id="geo-vector"><rect class="box" x="1117" y="862" width="66" height="13"/><text x="1150" y="871.5">Vector</text></g>
</g>

<!-- no connectors are drawn between the category panels -->
<g id="connectors"/>
</svg>
